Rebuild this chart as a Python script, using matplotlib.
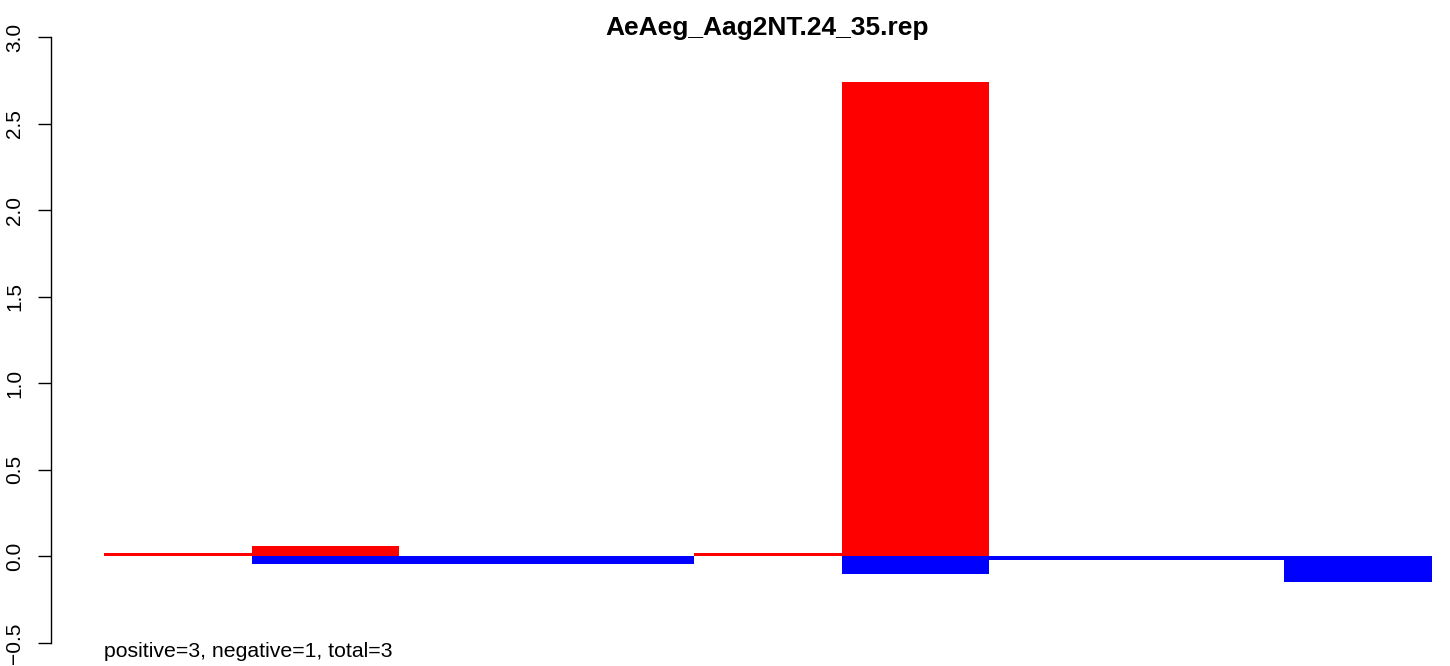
import numpy as np
import matplotlib.pyplot as plt

plt.rcParams['font.family'] = ['Liberation Sans', 'DejaVu Sans']

title = "AeAeg_Aag2NT.24_35.rep"
note = "positive=3, negative=1, total=3"

# one value per bin, 9 bins side by side
pos = [0.017, 0.058, 0.0, 0.0, 0.017, 2.74, 0.0, 0.0, 0.0]
neg = [0.0, -0.045, -0.045, -0.045, 0.0, -0.102, -0.023, -0.023, -0.15]
yticks = [-0.5, 0.0, 0.5, 1.0, 1.5, 2.0, 2.5, 3.0]

W, H = 1450, 666
fig = plt.figure(figsize=(W / 100, H / 100), dpi=100)

# axes placed in pixels: left spine at x=51, y=3.0 at 37px, y=-0.5 at 643px
x0, x1 = 51, 1450
y_top, y_bot = 37, 643
ax = fig.add_axes([x0 / W, 1 - y_bot / H, (x1 - x0) / W, (y_bot - y_top) / H])

bw = 147.56  # px per bar
xs = np.arange(len(pos))
ax.bar(xs, pos, width=1.0, align='edge', color='red', linewidth=0)
ax.bar(xs, neg, width=1.0, align='edge', color='blue', linewidth=0)

ax.set_xlim(-(104 - x0) / bw, len(pos) + (x1 - 1432) / bw)
ax.set_ylim(-0.5, 3.0)

for s in ['top', 'right', 'bottom']:
    ax.spines[s].set_visible(False)
ax.spines['left'].set_linewidth(1.0)
ax.set_xticks([])
ax.set_yticks(yticks)
ax.set_yticklabels([f"{v:.1f}".replace('-', '\u2212') for v in yticks],
                   rotation=90, va='center', fontsize=15)
ax.tick_params(axis='y', length=9.5, width=1.0, pad=10)

fig.text(767 / W, 1 - 35 / H, title, ha='center', va='baseline',
         fontsize=19, fontweight='bold')
fig.text(104 / W, 1 - 657 / H, note, ha='left', va='baseline', fontsize=15.3)

fig.savefig('out.png', dpi=100)
